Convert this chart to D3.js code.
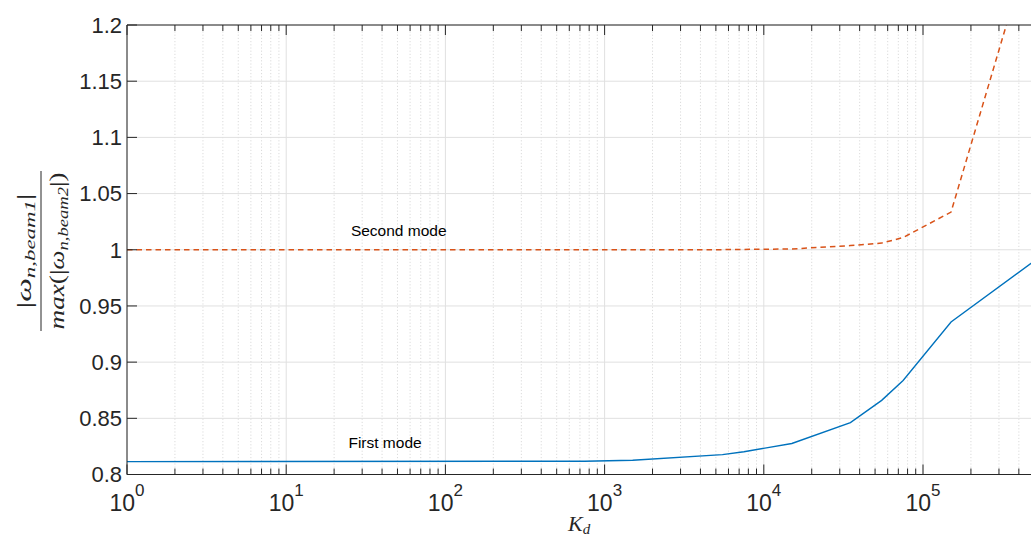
<!DOCTYPE html>
<html>
<head>
<meta charset="utf-8">
<script src="https://cdn.jsdelivr.net/npm/d3@7"></script>
<style>
  html, body { margin: 0; padding: 0; background: #fff; overflow: hidden; }
  svg { display: block; }
</style>
</head>
<body>
<script>
// ---- data ----
const kValues    = [1, 750, 1500, 5500, 7500, 15000, 35000, 55000, 75000, 150000, 500000];
const firstMode  = [0.8115, 0.8118, 0.8127, 0.8177, 0.8203, 0.8276, 0.8462, 0.8660, 0.8836, 0.9357, 0.9900];
const secondMode = [1.0000, 1.0000, 1.0000, 1.0001, 1.0003, 1.0007, 1.0037, 1.0059, 1.0109, 1.0335, 1.2840];
const yTicks     = [0.8, 0.85, 0.9, 0.95, 1.0, 1.05, 1.1, 1.15, 1.2];
const xTickExps  = [0, 1, 2, 3, 4, 5];
const seriesNames = ["First mode", "Second mode"];
const labelK     = [24.6, 25.5];
const labelV     = [0.8285, 1.017];

// ---- layout ----
const W = 1031, H = 540;
const mLeft = 127, mTop = 25, mBottom = 474.5, decade = 159.2;

const svg = d3.select("body").append("svg").attr("width", W).attr("height", H);

const x = d3.scaleLog().domain([1, 1e6]).range([mLeft, mLeft + 6 * decade]);
const y = d3.scaleLinear().domain([0.8, 1.2]).range([mBottom, mTop]);
const xEnd = x.range()[1];

const font = "'Liberation Sans', Arial, Helvetica, sans-serif";
const axisColor = "#262626";

// minor values
const minorVals = [];
for (let d = 0; d <= 5; d++) for (let m = 2; m <= 9; m++) {
  const v = m * Math.pow(10, d);
  if (v < 1e6) minorVals.push(v);
}
const majorVals = xTickExps.map(e => Math.pow(10, e));

// clip
svg.append("clipPath").attr("id", "clip").append("rect")
  .attr("x", mLeft).attr("y", mTop).attr("width", xEnd - mLeft).attr("height", mBottom - mTop);

// grid
const grid = svg.append("g");
grid.selectAll("line.minor").data(minorVals).join("line")
  .attr("x1", d => x(d)).attr("x2", d => x(d)).attr("y1", mTop).attr("y2", mBottom)
  .attr("stroke", "#d2d2d2").attr("stroke-width", 0.8).attr("stroke-dasharray", "1.2,2");
grid.selectAll("line.majx").data(majorVals).join("line")
  .attr("x1", d => x(d)).attr("x2", d => x(d)).attr("y1", mTop).attr("y2", mBottom)
  .attr("stroke", "#e0e0e0").attr("stroke-width", 1);
grid.selectAll("line.majy").data(yTicks).join("line")
  .attr("x1", mLeft).attr("x2", xEnd).attr("y1", d => y(d)).attr("y2", d => y(d))
  .attr("stroke", "#e0e0e0").attr("stroke-width", 1);

// lines
const pts1 = kValues.map((k, i) => [k, firstMode[i]]);
const pts2 = kValues.map((k, i) => [k, secondMode[i]]);
const line = d3.line().x(d => x(d[0])).y(d => y(d[1]));
const plot = svg.append("g").attr("clip-path", "url(#clip)");
plot.append("path").attr("d", line(pts1)).attr("fill", "none")
  .attr("stroke", "#0072BD").attr("stroke-width", 1.4);
plot.append("path").attr("d", line(pts2)).attr("fill", "none")
  .attr("stroke", "#D95319").attr("stroke-width", 1.5).attr("stroke-dasharray", "5.5,4");

// axes lines
svg.append("line").attr("x1", mLeft).attr("x2", xEnd).attr("y1", mBottom).attr("y2", mBottom)
  .attr("stroke", axisColor).attr("stroke-width", 1);
svg.append("line").attr("x1", mLeft).attr("x2", xEnd).attr("y1", mTop).attr("y2", mTop)
  .attr("stroke", axisColor).attr("stroke-width", 1);
svg.append("line").attr("x1", mLeft).attr("x2", mLeft).attr("y1", mTop).attr("y2", mBottom)
  .attr("stroke", axisColor).attr("stroke-width", 1);

// x ticks (inward, bottom & top)
const ticks = svg.append("g").attr("stroke", axisColor).attr("stroke-width", 1);
majorVals.forEach(v => {
  ticks.append("line").attr("x1", x(v)).attr("x2", x(v)).attr("y1", mBottom).attr("y2", mBottom - 10);
  ticks.append("line").attr("x1", x(v)).attr("x2", x(v)).attr("y1", mTop).attr("y2", mTop + 10);
});
minorVals.forEach(v => {
  ticks.append("line").attr("x1", x(v)).attr("x2", x(v)).attr("y1", mBottom).attr("y2", mBottom - 6);
  ticks.append("line").attr("x1", x(v)).attr("x2", x(v)).attr("y1", mTop).attr("y2", mTop + 6);
});
yTicks.forEach(v => {
  ticks.append("line").attr("x1", mLeft).attr("x2", mLeft + 10).attr("y1", y(v)).attr("y2", y(v));
});

// y tick labels
svg.append("g").selectAll("text").data(yTicks).join("text")
  .attr("x", mLeft - 5).attr("y", d => y(d)).attr("dy", "0.36em")
  .attr("text-anchor", "end").attr("font-family", font).attr("font-size", 22)
  .attr("fill", axisColor)
  .text(d => String(+d.toFixed(2)));

// x tick labels 10^k
const xl = svg.append("g").selectAll("text").data(xTickExps).join("text")
  .attr("x", d => x(Math.pow(10, d))).attr("y", 510.5)
  .attr("text-anchor", "middle").attr("font-family", font).attr("fill", axisColor);
xl.append("tspan").attr("font-size", 23).text("10");
xl.append("tspan").attr("font-size", 17).attr("dy", -15).text(d => d);

// series labels
svg.append("g").selectAll("text").data(seriesNames).join("text")
  .attr("x", (d, i) => x(labelK[i])).attr("y", (d, i) => y(labelV[i])).attr("dy", "0.35em")
  .attr("font-family", font).attr("font-size", 15.5).attr("fill", "#000")
  .text(d => d);

// x axis label K_d
const xlab = svg.append("text").attr("x", 568).attr("y", 531)
  .attr("font-family", "'Liberation Serif', serif").attr("font-style", "italic")
  .attr("font-size", 22).attr("fill", axisColor);
xlab.append("tspan").text("K");
xlab.append("tspan").attr("font-size", 15).attr("dy", 3).text("d");

// y axis label: fraction, rotated
const yl = svg.append("g").attr("transform", "translate(41,251) rotate(-90)");
yl.append("line").attr("x1", -80).attr("x2", 80).attr("y1", 0).attr("y2", 0)
  .attr("stroke", axisColor).attr("stroke-width", 1);
const lf = "'Liberation Serif', serif";
const num = yl.append("text").attr("x", 0).attr("y", -10).attr("text-anchor", "middle")
  .attr("font-family", lf).attr("font-size", 22).attr("fill", axisColor)
  .attr("textLength", 115).attr("lengthAdjust", "spacingAndGlyphs");
num.append("tspan").attr("font-style", "normal").text("|");
num.append("tspan").attr("font-style", "italic").text("ω");
num.append("tspan").attr("font-style", "italic").attr("font-size", 15).attr("dy", 4).text("n,beam1");
num.append("tspan").attr("font-style", "normal").attr("dy", -4).text("|");
const den = yl.append("text").attr("x", 0).attr("y", 23).attr("text-anchor", "middle")
  .attr("font-family", lf).attr("font-size", 22).attr("fill", axisColor)
  .attr("textLength", 157).attr("lengthAdjust", "spacingAndGlyphs");
den.append("tspan").attr("font-style", "italic").text("max");
den.append("tspan").attr("font-style", "normal").text("(|");
den.append("tspan").attr("font-style", "italic").text("ω");
den.append("tspan").attr("font-style", "italic").attr("font-size", 15).attr("dy", 4).text("n,beam2");
den.append("tspan").attr("font-style", "normal").attr("dy", -4).text("|)");
</script>
</body>
</html>
